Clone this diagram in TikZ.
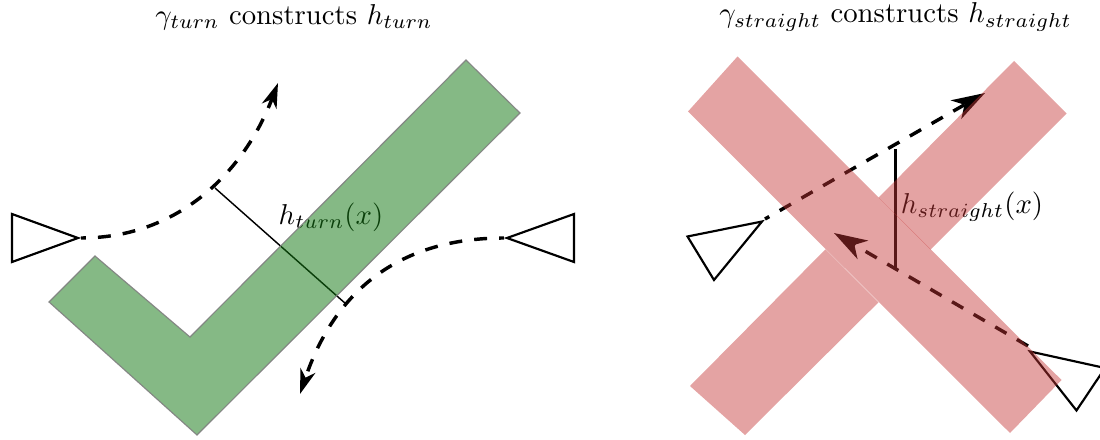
\documentclass[tikz,border=0pt]{standalone}
\usepackage{amsmath}
\usepackage{amssymb}
\usetikzlibrary{arrows.meta}

\definecolor{turngreen}{RGB}{21,121,21}
\definecolor{crossred}{RGB}{196,54,54}

\begin{document}
\begin{tikzpicture}[
        x=0.348pt, y=-0.348pt,
        smalltip/.style={-{Stealth[length=8.6pt, width=5.4pt, inset=2.6pt]}},
        bigtip/.style={-{Stealth[length=11.6pt, width=7.4pt, inset=3.4pt]}},
        sensor/.style={draw, line width=0.75pt, line join=miter},
        traj/.style={line width=1.2pt, dash pattern=on 4.5pt off 4.2pt, dash phase=2.8pt},
        turnroad/.style={draw=black!50, line width=0.4pt, fill=turngreen, fill opacity=0.52, draw opacity=0.9},
        crossroad/.style={fill=crossred, fill opacity=0.46},
    ]
        \useasboundingbox (0,0) rectangle (1100,440);

        % titles
        \node (titleturn) at (294,17) {$\gamma_{turn}$ constructs $h_{turn}$};
        \node (titlestraight) at (895.5,17) {$\gamma_{straight}$ constructs $h_{straight}$};

        % left: turn
        \coordinate (turnstart) at (81,238);
        \coordinate (turnend) at (278,83);
        \coordinate (turnbstart) at (504,238);
        \coordinate (turnbend) at (300,394);
        \coordinate (turna) at (215,188);
        \coordinate (turnb) at (346,304);
        \node (hturn) at (331,217) {$h_{turn}(x)$};
        \draw[sensor] (12,214) -- (78,238) -- (12,262) -- cycle;
        \draw[sensor] (574,214) -- (507,238) -- (574,262) -- cycle;
        \draw[traj, smalltip] (turnstart) .. controls (180,238) and (245,170) .. (turnend);
        \draw[traj, smalltip] (turnbstart) .. controls (400,238) and (335,290) .. (turnbend);
        \draw[line width=0.5pt] (turna) -- (turnb);
        \draw[turnroad] (466,60) -- (520,113) -- (197,435) -- (49,302) -- (95,256) -- (190,337) -- cycle;

        % right: straight
        \coordinate (straightstart) at (765,219);
        \coordinate (straightend) at (985,93);
        \coordinate (straightbstart) at (1028,346);
        \coordinate (straightbend) at (834,233);
        \coordinate (straighta) at (895.7,149);
        \coordinate (straightb) at (895.7,269);
        \node (hstraight) at (972,207) {$h_{straight}(x)$};
        \draw[sensor] (687.5,236.5) -- (762,221.5) -- (714,280) -- cycle;
        \draw[sensor] (1030,351.5) -- (1105,368) -- (1076.5,410.5) -- cycle;
        \draw[traj, bigtip] (straightstart) -- (straightend);
        \draw[traj, bigtip, dash phase=0pt] (straightbstart) -- (straightbend);
        \draw[line width=1pt] (straighta) -- (straightb);
        \fill[crossroad] (737.5,56.5) -- (688,111.5) -- (1010,433) -- (1061.5,380) -- cycle;
        \fill[crossroad] (690,386) -- (745,435) -- (878.5,302.3) -- (825.5,249.3) -- cycle;
        \fill[crossroad] (1014,61) -- (1066.5,113.5) -- (930.5,249.6) -- (878.5,197.7) -- cycle;
    \end{tikzpicture}
\end{document}
